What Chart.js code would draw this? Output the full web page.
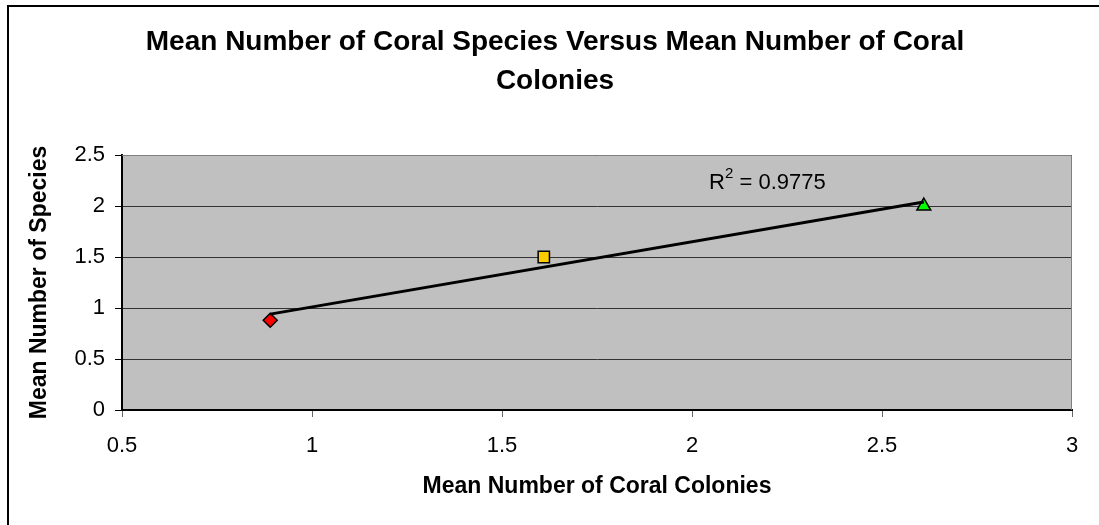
<!DOCTYPE html>
<html>
<head>
<meta charset="utf-8">
<script src="https://cdn.jsdelivr.net/npm/chart.js@4/dist/chart.umd.min.js"></script>
<style>
  html, body { margin: 0; padding: 0; background: #fff; }
  canvas { display: block; }
</style>
</head>
<body>
<canvas id="chart" width="1099" height="525"></canvas>
<script>
// data
const colonies = [0.89, 1.61, 2.61];
const species = [0.88, 1.5, 2.0];
const trendX = [0.89, 2.61];
const trendY = [0.94, 2.04];
const rSquared = '0.9775';
const titleLines = ['Mean Number of Coral Species Versus Mean Number of Coral', 'Colonies'];

const markerStyles = ['rectRot', 'rect', 'triangle'];
const markerColors = ['#ff0000', '#ffcc00', '#00ff00'];
const markerSizes = [7, 8, 8];

const FONT = '"Liberation Sans", Arial, sans-serif';

// plot background, plot frame, outer frame, title, R² label
const decor = {
  id: 'decor',
  beforeDraw(chart) {
    const a = chart.chartArea;
    const ctx = chart.ctx;
    ctx.save();
    ctx.fillStyle = '#c0c0c0';
    ctx.fillRect(a.left, a.top, a.right - a.left, a.bottom - a.top);
    ctx.restore();
  },
  beforeDatasetsDraw(chart) {
    const a = chart.chartArea;
    const ctx = chart.ctx;
    ctx.save();
    ctx.strokeStyle = '#808080';
    ctx.lineWidth = 1;
    ctx.beginPath();
    ctx.moveTo(a.left, a.top + 0.5);
    ctx.lineTo(a.right - 0.5, a.top + 0.5);
    ctx.lineTo(a.right - 0.5, a.bottom);
    ctx.stroke();
    ctx.restore();
  },
  afterDraw(chart) {
    const ctx = chart.ctx;
    ctx.save();
    ctx.strokeStyle = '#000';
    ctx.lineWidth = 2;
    ctx.beginPath();
    ctx.moveTo(8, chart.height);
    ctx.lineTo(8, 6);
    ctx.lineTo(chart.width, 6);
    ctx.stroke();

    // chart title, centred on the outer frame
    ctx.fillStyle = '#000';
    ctx.textAlign = 'center';
    ctx.textBaseline = 'middle';
    ctx.font = 'bold 28px ' + FONT;
    titleLines.forEach((t, i) => ctx.fillText(t, 555, 42 + i * 39));

    // R² label
    ctx.textAlign = 'left';
    const x = chart.scales.x.getPixelForValue(2.045);
    const y = chart.scales.y.getPixelForValue(2.23);
    ctx.font = '22px ' + FONT;
    ctx.fillText('R', x, y);
    let w = ctx.measureText('R').width;
    ctx.font = '15px ' + FONT;
    ctx.fillText('2', x + w, y - 9);
    w += ctx.measureText('2').width;
    ctx.font = '22px ' + FONT;
    ctx.fillText(' = ' + rSquared, x + w, y);
    ctx.restore();
  }
};

new Chart(document.getElementById('chart'), {
  type: 'scatter',
  data: {
    datasets: [
      {
        type: 'line',
        data: trendX.map((x, i) => ({ x, y: trendY[i] })),
        borderColor: '#000',
        borderWidth: 3,
        pointRadius: 0,
        fill: false,
      },
      ...colonies.map((x, i) => ({
        data: [{ x, y: species[i] }],
        pointStyle: markerStyles[i],
        backgroundColor: markerColors[i],
        borderColor: '#000',
        borderWidth: 1.5,
        pointRadius: markerSizes[i],
      })),
    ],
  },
  options: {
    responsive: false,
    animation: false,
    layout: { padding: { top: 155, right: 27, bottom: 0, left: 0 } },
    plugins: {
      legend: { display: false },
      tooltip: { enabled: false },
      title: { display: false },
    },
    scales: {
      x: {
        type: 'linear',
        min: 0.5, max: 3,
        afterFit: s => { s.height = 115; },
        ticks: { stepSize: 0.5, color: '#000', font: { family: FONT, size: 22 }, padding: 16, maxRotation: 0, callback: v => String(v) },
        grid: { drawOnChartArea: false, drawTicks: true, tickLength: 7, tickColor: '#666' },
        border: { display: true, color: '#000', width: 2 },
        title: {
          display: true,
          text: 'Mean Number of Coral Colonies',
          color: '#000',
          font: { family: FONT, size: 23, weight: 'bold' },
          padding: { top: 0, bottom: 25 },
        },
      },
      y: {
        min: 0, max: 2.5,
        afterFit: s => { s.width = 122; },
        ticks: { stepSize: 0.5, color: '#000', font: { family: FONT, size: 22 }, padding: 10, callback: v => String(v) },
        grid: { color: '#333', lineWidth: 1, drawTicks: true, tickLength: 7, tickColor: '#000' },
        border: { display: true, color: '#000', width: 2 },
        title: {
          display: true,
          text: 'Mean Number of Species',
          color: '#000',
          font: { family: FONT, size: 23, weight: 'bold' },
          padding: { top: 26, bottom: 0 },
        },
      },
    },
  },
  plugins: [decor],
});
</script>
</body>
</html>
